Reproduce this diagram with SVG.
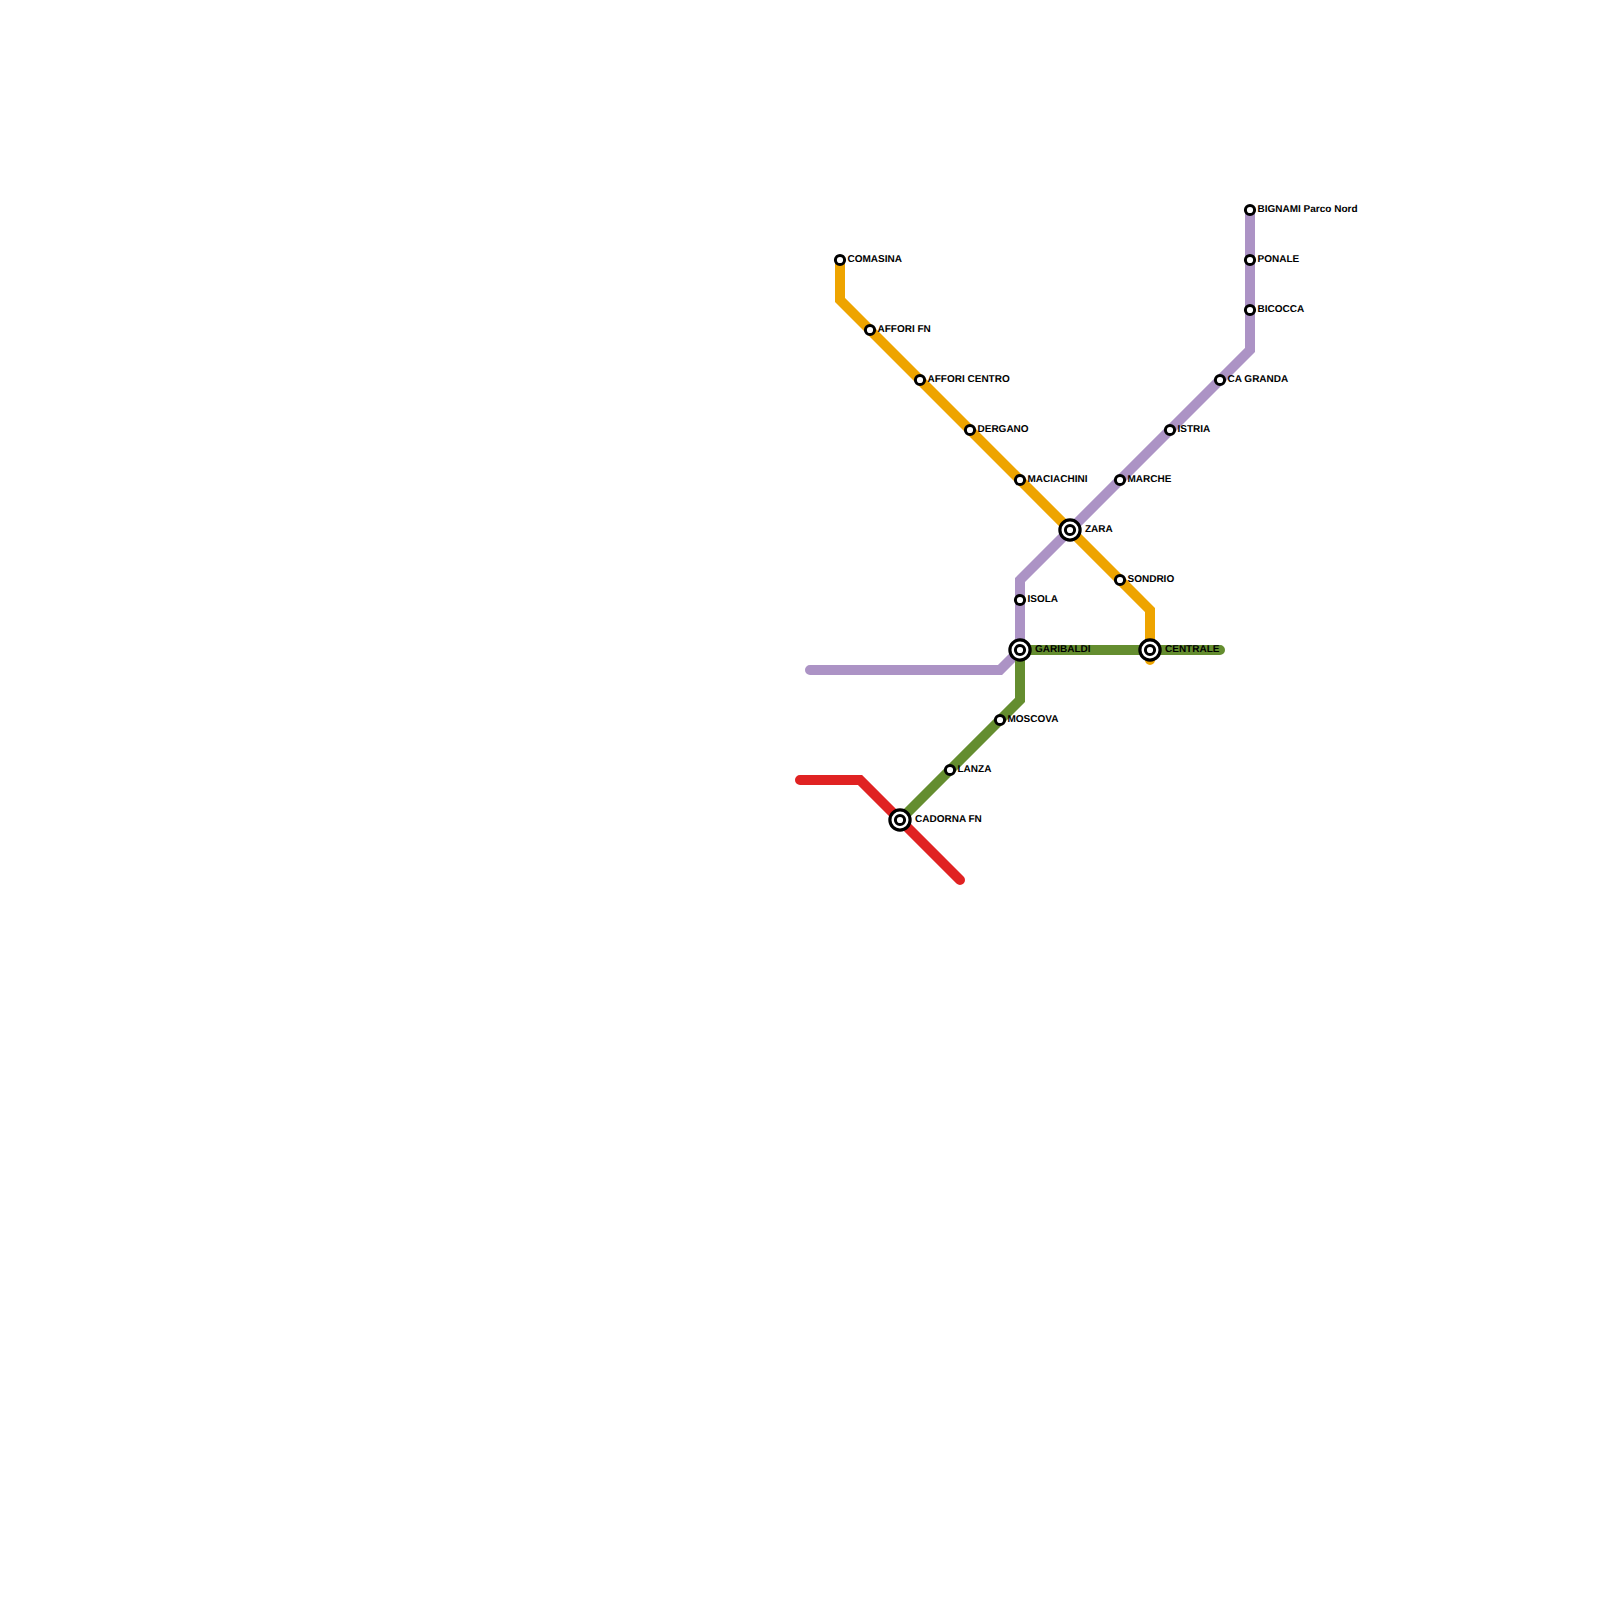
<svg xmlns="http://www.w3.org/2000/svg" width="1600" height="1600" viewBox="0 0 1600 1600">
<style>
.l{fill:none;stroke-width:10;stroke-linecap:round;stroke-linejoin:miter}
.s{fill:#fff;stroke:#000;stroke-width:3}
.o{fill:#fff;stroke:#000;stroke-width:3.2}
text{font-family:"Liberation Sans",Arial,sans-serif;font-size:10px;font-weight:700;fill:#000;text-rendering:geometricPrecision}
</style>
<defs>
<g id="st"><circle class="s" r="4.6"/></g>
<g id="ic"><circle class="o" r="10.1"/><circle class="s" r="4.6"/></g>
</defs>
<rect width="1600" height="1600" fill="#fff"/>
<g id="connectors">
<path class="l" style="stroke:#eea400" d="M840 260V300L1150 610V660"/>
<path class="l" style="stroke:#ac93c5" d="M1250 210V350L1020 580V650L1000 670H810"/>
<path class="l" style="stroke:#648d2f" d="M1220 650H1020V700L900 820"/>
<path class="l" style="stroke:#e02222" d="M800 780H860L960 880"/>
</g>
<g id="n-comasina"><use href="#st" x="840" y="260"/><text x="847.5" y="262.2">COMASINA</text></g>
<g id="n-affori-fn"><use href="#st" x="870" y="330"/><text x="877.5" y="332.2">AFFORI FN</text></g>
<g id="n-affori-centro"><use href="#st" x="920" y="380"/><text x="927.5" y="382.2">AFFORI CENTRO</text></g>
<g id="n-dergano"><use href="#st" x="970" y="430"/><text x="977.5" y="432.2">DERGANO</text></g>
<g id="n-maciachini"><use href="#st" x="1020" y="480"/><text x="1027.5" y="482.2">MACIACHINI</text></g>
<g id="n-zara"><use href="#ic" x="1070" y="530"/><text x="1085" y="532.2">ZARA</text></g>
<g id="n-sondrio"><use href="#st" x="1120" y="580"/><text x="1127.5" y="582.2">SONDRIO</text></g>
<g id="n-centrale"><use href="#ic" x="1150" y="650"/><text x="1165" y="652.2">CENTRALE</text></g>
<g id="n-garibaldi"><use href="#ic" x="1020" y="650"/><text x="1035" y="652.2">GARIBALDI</text></g>
<g id="n-isola"><use href="#st" x="1020" y="600"/><text x="1027.5" y="602.2">ISOLA</text></g>
<g id="n-moscova"><use href="#st" x="1000" y="720"/><text x="1007.5" y="722.2">MOSCOVA</text></g>
<g id="n-lanza"><use href="#st" x="950" y="770"/><text x="957.5" y="772.2">LANZA</text></g>
<g id="n-cadorna"><use href="#ic" x="900" y="820"/><text x="915" y="822.2">CADORNA FN</text></g>
<g id="n-marche"><use href="#st" x="1120" y="480"/><text x="1127.5" y="482.2">MARCHE</text></g>
<g id="n-istria"><use href="#st" x="1170" y="430"/><text x="1177.5" y="432.2">ISTRIA</text></g>
<g id="n-ca-granda"><use href="#st" x="1220" y="380"/><text x="1227.5" y="382.2">CA GRANDA</text></g>
<g id="n-bicocca"><use href="#st" x="1250" y="310"/><text x="1257.5" y="312.2">BICOCCA</text></g>
<g id="n-ponale"><use href="#st" x="1250" y="260"/><text x="1257.5" y="262.2">PONALE</text></g>
<g id="n-bignami"><use href="#st" x="1250" y="210"/><text x="1257.5" y="212.2">BIGNAMI Parco Nord</text></g>
</svg>
